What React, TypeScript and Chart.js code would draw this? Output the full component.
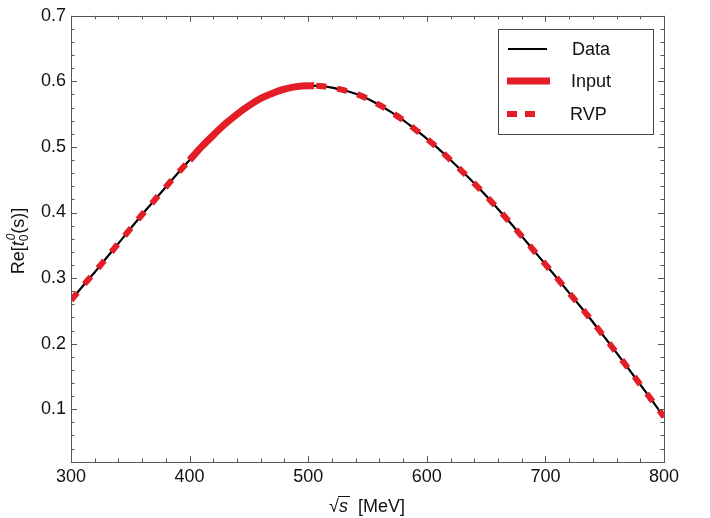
import React, { useEffect, useRef } from "react";
import { Chart, registerables } from "chart.js";

Chart.register(...registerables);

// ---- data ----
const sqrtS = [
  300, 310, 320, 330, 340, 350, 360, 370, 380, 390, 400, 410, 420, 430, 440, 450,
  460, 470, 480, 490, 500, 510, 520, 530, 540, 550, 560, 570, 580, 590, 600, 610,
  620, 630, 640, 650, 660, 670, 680, 690, 700, 710, 720, 730, 740, 750, 760, 770,
  780, 790, 800,
];
const dataRe = [
  0.266, 0.288, 0.309, 0.331, 0.353, 0.375, 0.397, 0.418, 0.439, 0.46, 0.48, 0.5,
  0.518, 0.535, 0.55, 0.563, 0.574, 0.582, 0.588, 0.592, 0.5935, 0.593, 0.5905,
  0.5865, 0.581, 0.5735, 0.564, 0.553, 0.541, 0.527, 0.5125, 0.497, 0.48, 0.4625,
  0.4445, 0.4255, 0.4055, 0.385, 0.364, 0.3425, 0.321, 0.2995, 0.2775, 0.2555,
  0.233, 0.2095, 0.186, 0.162, 0.1375, 0.113, 0.088,
];
const rvpRe = [
  0.266, 0.288, 0.309, 0.331, 0.353, 0.375, 0.397, 0.418, 0.439, 0.46, 0.48, 0.5,
  0.518, 0.535, 0.55, 0.563, 0.574, 0.582, 0.588, 0.592, 0.5935, 0.593, 0.5905,
  0.5865, 0.581, 0.5735, 0.564, 0.553, 0.541, 0.527, 0.5125, 0.497, 0.48, 0.4625,
  0.4445, 0.4255, 0.4055, 0.385, 0.364, 0.3425, 0.321, 0.2995, 0.2775, 0.2555,
  0.233, 0.2095, 0.186, 0.162, 0.1375, 0.113, 0.088,
];
const inputS = [400, 410, 420, 430, 440, 450, 460, 470, 480, 490, 500, 505];
const inputRe = [0.48, 0.5, 0.518, 0.535, 0.55, 0.563, 0.574, 0.582, 0.588, 0.592, 0.5935, 0.5935];

const xTicks = [300, 400, 500, 600, 700, 800];
const yTicks = [0.1, 0.2, 0.3, 0.4, 0.5, 0.6, 0.7];
const xMinorStep = 20;
const yMinorStep = 0.02;
const legendLabels = ["Data", "Input", "RVP"];

const RED = "rgb(228,30,38)";
const AXIS = "#555";
const FONT = "'Liberation Sans', Arial, sans-serif";

const toPts = (xs: number[], ys: number[]) => xs.map((x, i) => ({ x, y: ys[i] }));

const decorPlugin = {
  id: "decor",
  afterDraw(chart: any) {
    const { ctx, chartArea: a, scales } = chart;
    const xs = scales.x;
    const ys = scales.y;
    ctx.save();
    // frame
    ctx.strokeStyle = AXIS;
    ctx.lineWidth = 1;
    ctx.strokeRect(Math.round(a.left) + 0.5, Math.round(a.top) + 0.5, Math.round(a.right - a.left), Math.round(a.bottom - a.top));
    // ticks
    const majL = 6;
    const minL = 3.5;
    ctx.beginPath();
    for (let v = xs.min; v <= xs.max + 1e-9; v += xMinorStep) {
      const isMaj = xTicks.some((t) => Math.abs(t - v) < 1e-6);
      const L = isMaj ? majL : minL;
      const px = Math.round(xs.getPixelForValue(v)) + 0.5;
      ctx.moveTo(px, a.bottom);
      ctx.lineTo(px, a.bottom - L);
      ctx.moveTo(px, a.top);
      ctx.lineTo(px, a.top + L);
    }
    const y0 = Math.ceil(ys.min / yMinorStep - 1e-6) * yMinorStep;
    for (let k = 0; y0 + k * yMinorStep <= ys.max + 1e-9; k++) {
      const v = y0 + k * yMinorStep;
      const isMaj = yTicks.some((t) => Math.abs(t - v) < 1e-6);
      const L = isMaj ? majL : minL;
      const py = Math.round(ys.getPixelForValue(v)) + 0.5;
      ctx.moveTo(a.left, py);
      ctx.lineTo(a.left + L, py);
      ctx.moveTo(a.right, py);
      ctx.lineTo(a.right - L, py);
    }
    ctx.stroke();

    // x title: sqrt(s) [MeV]
    ctx.fillStyle = "#111";
    ctx.textBaseline = "alphabetic";
    const f = `18px ${FONT}`;
    const fi = `italic 18px ${FONT}`;
    ctx.font = f;
    const wRoot = ctx.measureText("\u221A").width;
    ctx.font = fi;
    const wS = ctx.measureText("s").width;
    ctx.font = f;
    const wRest = ctx.measureText("  [MeV]").width;
    const total = wRoot + wS + wRest;
    let cx = 367 - total / 2;
    const by = 512;
    ctx.font = f;
    ctx.fillText("\u221A", cx, by);
    cx += wRoot;
    ctx.font = fi;
    ctx.fillText("s", cx, by);
    ctx.lineWidth = 1;
    ctx.strokeStyle = "#111";
    ctx.beginPath();
    ctx.moveTo(cx - 1, by - 15.5);
    ctx.lineTo(cx + wS + 2, by - 15.5);
    ctx.stroke();
    cx += wS;
    ctx.font = f;
    ctx.fillText("  [MeV]", cx, by);

    // y title: Re[t_0^0(s)]
    ctx.save();
    ctx.translate(24, 241);
    ctx.rotate(-Math.PI / 2);
    const fs = `12px ${FONT}`;
    const fsi = `italic 12px ${FONT}`;
    ctx.font = f;
    const w1 = ctx.measureText("Re[").width;
    ctx.font = fi;
    const w2 = ctx.measureText("t").width;
    ctx.font = fs;
    const w3 = ctx.measureText("0").width + 1;
    ctx.font = f;
    const w4 = ctx.measureText("(s)]").width;
    let tx = -(w1 + w2 + w3 + w4) / 2;
    ctx.font = f;
    ctx.fillText("Re[", tx, 0);
    tx += w1;
    ctx.font = fi;
    ctx.fillText("t", tx, 0);
    tx += w2;
    ctx.font = fs;
    ctx.fillText("0", tx, 4);
    ctx.font = fsi;
    ctx.fillText("0", tx + 1, -9);
    tx += w3;
    ctx.font = f;
    ctx.fillText("(s)]", tx, 0);
    ctx.restore();

    // legend
    ctx.strokeStyle = "#444";
    ctx.lineWidth = 1;
    ctx.fillStyle = "#fff";
    ctx.fillRect(498.5, 29.5, 155, 105);
    ctx.strokeRect(498.5, 29.5, 155, 105);
    const rows = [49, 81, 114];
    // Data
    ctx.strokeStyle = "#000";
    ctx.lineWidth = 2;
    ctx.setLineDash([]);
    ctx.beginPath();
    ctx.moveTo(508, rows[0]);
    ctx.lineTo(547, rows[0]);
    ctx.stroke();
    // Input
    ctx.strokeStyle = RED;
    ctx.lineWidth = 7;
    ctx.beginPath();
    ctx.moveTo(507, rows[1]);
    ctx.lineTo(550, rows[1]);
    ctx.stroke();
    // RVP
    ctx.lineWidth = 6;
    ctx.setLineDash([10, 8]);
    ctx.beginPath();
    ctx.moveTo(507, rows[2]);
    ctx.lineTo(535, rows[2]);
    ctx.stroke();
    ctx.setLineDash([]);
    ctx.fillStyle = "#111";
    ctx.font = f;
    ctx.textBaseline = "middle";
    const textX = [572, 571, 570];
    legendLabels.forEach((l, i) => ctx.fillText(l, textX[i], rows[i] + 1));
    ctx.restore();
  },
};

export default function App() {
  const ref = useRef<HTMLCanvasElement | null>(null);
  useEffect(() => {
    if (!ref.current) return;
    const chart = new Chart(ref.current, {
      type: "line",
      data: {
        datasets: [
          {
            label: legendLabels[0],
            data: toPts(sqrtS, dataRe),
            borderColor: "#000",
            borderWidth: 2.2,
            pointRadius: 0,
            cubicInterpolationMode: "monotone",
            order: 3,
          },
          {
            label: legendLabels[1],
            data: toPts(inputS, inputRe),
            borderColor: RED,
            borderWidth: 7,
            pointRadius: 0,
            cubicInterpolationMode: "monotone",
            order: 2,
          },
          {
            label: legendLabels[2],
            data: toPts(sqrtS, rvpRe),
            borderColor: RED,
            borderWidth: 6,
            borderDash: [10, 11],
            pointRadius: 0,
            cubicInterpolationMode: "monotone",
            order: 1,
          },
        ],
      },
      options: {
        responsive: false,
        animation: false,
        layout: { padding: { top: 15, right: 46, left: 0, bottom: 0 } },
        plugins: { legend: { display: false }, tooltip: { enabled: false } },
        scales: {
          x: {
            type: "linear",
            min: 300,
            max: 800,
            grid: { display: false, drawTicks: false },
            border: { display: false },
            afterBuildTicks: (s: any) => {
              s.ticks = xTicks.map((v) => ({ value: v }));
            },
            afterFit: (s: any) => {
              s.height = 56;
            },
            ticks: {
              padding: 4,
              color: "#111",
              font: { family: FONT, size: 18 },
              maxRotation: 0,
              callback: (v: any) => String(v),
            },
          },
          y: {
            type: "linear",
            min: 0.0195,
            max: 0.7,
            grid: { display: false, drawTicks: false },
            border: { display: false },
            afterBuildTicks: (s: any) => {
              s.ticks = yTicks.map((v) => ({ value: v }));
            },
            afterFit: (s: any) => {
              s.width = 71;
            },
            ticks: {
              padding: 5,
              color: "#111",
              font: { family: FONT, size: 18 },
              callback: (v: any) => Number(v).toFixed(1),
            },
          },
        },
      },
      plugins: [decorPlugin],
    } as any);
    return () => chart.destroy();
  }, []);
  return (
    <div style={{ position: "fixed", left: 0, top: 0, width: 710, height: 518, background: "#fff" }}>
      <canvas ref={ref} width={710} height={518} />
    </div>
  );
}
